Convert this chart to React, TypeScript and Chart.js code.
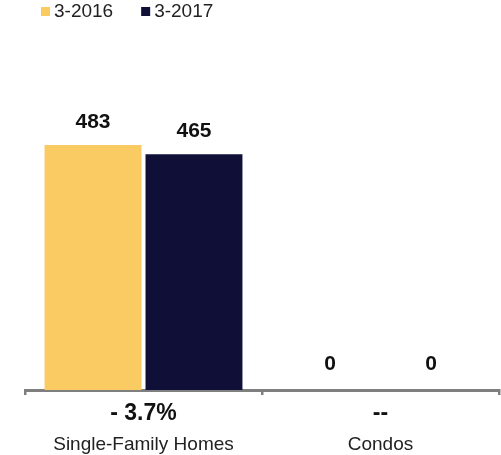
import React, { useEffect, useRef } from "react";
import { Chart, registerables } from "chart.js";

Chart.register(...registerables);

const categories = ["Single-Family Homes", "Condos"];
const changeLabels = ["- 3.7%", "--"];
const seriesNames = ["3-2016", "3-2017"];
const values2016 = [483, 0];
const values2017 = [465, 0];
const seriesColors = ["#FACB63", "#0F0F38"];

const FONT = "'Liberation Sans', Arial, Helvetica, sans-serif";

const labelPlugin = {
  id: "customLabels",
  afterDraw(chart: any) {
    const ctx = chart.ctx as CanvasRenderingContext2D;
    ctx.save();
    // value labels above bars
    ctx.fillStyle = "#111";
    ctx.font = `bold 21px ${FONT}`;
    ctx.textAlign = "center";
    ctx.textBaseline = "alphabetic";
    chart.data.datasets.forEach((ds: any, i: number) => {
      const meta = chart.getDatasetMeta(i);
      meta.data.forEach((bar: any, j: number) => {
        const v = ds.data[j];
        ctx.fillText(String(v), bar.x, bar.y - (v === 0 ? 20 : 17));
      });
    });
    // category labels
    const xs = chart.scales.x;
    const bottom = chart.chartArea.bottom;
    ctx.textBaseline = "middle";
    categories.forEach((c, i) => {
      const x = xs.getPixelForValue(i);
      ctx.font = `bold 23px ${FONT}`;
      ctx.fillStyle = "#111";
      ctx.fillText(changeLabels[i], x, bottom + 24);
      ctx.font = `19px ${FONT}`;
      ctx.fillStyle = "#222";
      ctx.fillText(c, x, bottom + 55);
    });
    // legend
    ctx.textAlign = "left";
    ctx.font = `19px ${FONT}`;
    let lx = 41;
    chart.data.datasets.forEach((ds: any) => {
      ctx.fillStyle = ds.backgroundColor;
      ctx.fillRect(lx, 7, 9, 9);
      ctx.fillStyle = "#222";
      ctx.fillText(ds.label, lx + 13, 12);
      lx += 13 + ctx.measureText(ds.label).width + 28;
    });
    ctx.restore();
  },
};

export default function App() {
  const ref = useRef<HTMLCanvasElement>(null);
  useEffect(() => {
    if (!ref.current) return;
    const chart = new Chart(ref.current, {
      type: "bar",
      data: {
        labels: categories,
        datasets: [
          { label: seriesNames[0], data: values2016, backgroundColor: seriesColors[0] },
          { label: seriesNames[1], data: values2017, backgroundColor: seriesColors[1] },
        ],
      },
      options: {
        responsive: false,
        animation: false,
        layout: { padding: { left: 25, right: 2, top: 35, bottom: 60 } },
        datasets: { bar: { categoryPercentage: 0.852, barPercentage: 0.96 } },
        plugins: { legend: { display: false }, tooltip: { enabled: false } },
        scales: {
          x: {
            z: 1,
            ticks: { display: false },
            grid: {
              drawOnChartArea: false,
              drawTicks: true,
              tickLength: 5,
              color: "#7f7f7f",
              lineWidth: 2.5,
              offset: true,
            },
            border: { display: true, color: "#7f7f7f", width: 3 },
          },
          y: {
            display: false,
            min: 0,
            max: 700,
          },
        },
      },
      plugins: [labelPlugin],
    });
    return () => chart.destroy();
  }, []);
  return (
    <div style={{ position: "absolute", left: 0, top: 0, width: 501, height: 455 }}>
      <canvas ref={ref} width={501} height={455} style={{ width: 501, height: 455 }} />
    </div>
  );
}
